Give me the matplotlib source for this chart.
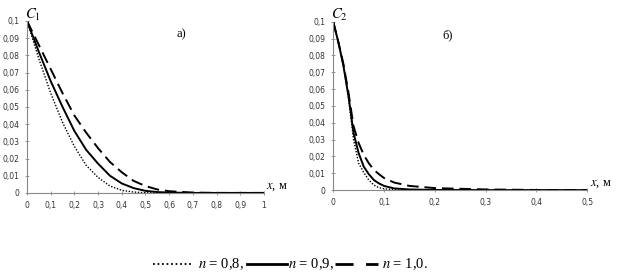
import matplotlib
matplotlib.use("Agg")
import matplotlib.pyplot as plt
from matplotlib.lines import Line2D
from matplotlib.ticker import FuncFormatter

# ---- data ----
x_a = [0, 0.05, 0.1, 0.15, 0.2, 0.25, 0.3, 0.35, 0.4, 0.45, 0.5, 0.55, 0.6, 0.7, 0.8, 0.9, 1.0]
c1_n08 = [0.1, 0.078, 0.058, 0.041, 0.027, 0.016, 0.009, 0.004, 0.0015, 0.0005, 0.0001, 0, 0, 0, 0, 0, 0]
c1_n09 = [0.1, 0.082, 0.065, 0.050, 0.036, 0.025, 0.017, 0.010, 0.0055, 0.0028, 0.0012, 0.0005, 0.0002, 0, 0, 0, 0]
c1_n10 = [0.1, 0.086, 0.072, 0.058, 0.045, 0.035, 0.026, 0.018, 0.012, 0.007, 0.004, 0.002, 0.001, 0.0002, 0, 0, 0]

x_b = [0, 0.01, 0.02, 0.03, 0.04, 0.05, 0.06, 0.07, 0.08, 0.09, 0.1, 0.12, 0.15, 0.2, 0.3, 0.4, 0.5]
c2_n08 = [0.1, 0.088, 0.074, 0.055, 0.030, 0.016, 0.0105, 0.006, 0.003, 0.0015, 0.0008, 0.0002, 0, 0, 0, 0, 0]
c2_n09 = [0.1, 0.088, 0.074, 0.056, 0.034, 0.022, 0.014, 0.0095, 0.006, 0.004, 0.0025, 0.001, 0.0004, 0.0001, 0, 0, 0]
c2_n10 = [0.1, 0.088, 0.075, 0.058, 0.038, 0.028, 0.021, 0.016, 0.012, 0.0095, 0.0072, 0.0045, 0.0025, 0.0012, 0.0004, 0.0001, 0]

yticks = [0, 0.01, 0.02, 0.03, 0.04, 0.05, 0.06, 0.07, 0.08, 0.09, 0.1]
xticks_a = [0, 0.1, 0.2, 0.3, 0.4, 0.5, 0.6, 0.7, 0.8, 0.9, 1.0]
xticks_b = [0, 0.1, 0.2, 0.3, 0.4, 0.5]
legend_labels = ["$n$ = 0,8,", "$n$ = 0,9,", "$n$ = 1,0."]

plt.rcParams["mathtext.fontset"] = "stix"
fig = plt.figure(figsize=(6.24, 2.8), dpi=100)

def fmt(v, pos):
    s = f"{v:.2f}".rstrip("0").rstrip(".")
    return s.replace(".", ",")

styles = [dict(ls=(0, (1, 1.2)), lw=1.0), dict(ls="-", lw=1.4), dict(ls=(0, (6, 3)), lw=1.4)]
leg_styles = [dict(ls=(0, (1, 1.5)), lw=1.3), dict(ls="-", lw=2.0), dict(ls=(0, (6.5, 4.5)), lw=2.0)]

def setup(ax, xticks, xmax, ylab, panel, panel_x):
    ax.set_xlim(0, xmax)
    ax.set_ylim(0, 0.1)
    ax.set_xticks(xticks)
    ax.set_yticks(yticks)
    ax.xaxis.set_major_formatter(FuncFormatter(fmt))
    ax.yaxis.set_major_formatter(FuncFormatter(fmt))
    for s in ("top", "right"):
        ax.spines[s].set_visible(False)
    for s in ("left", "bottom"):
        ax.spines[s].set_color("#888888")
        ax.spines[s].set_linewidth(0.8)
    ax.tick_params(direction="inout", length=3, width=0.6, color="#888888",
                   labelsize=5.5, pad=4, labelcolor="#333333")
    ax.patch.set_alpha(0)
    ax.text(-0.008, 0.99, ylab, transform=ax.transAxes, fontsize=10.5,
            ha="left", va="bottom")
    ax.text(1.01, 0.0, r"$x$, м", transform=ax.transAxes, fontsize=9,
            family="Liberation Serif", ha="left", va="bottom")
    ax.text(panel_x, 0.92, panel, transform=ax.transAxes, fontsize=9,
            family="Liberation Serif", ha="center", va="center")

ax1 = fig.add_axes([0.0433, 0.311, 0.3797, 0.614])
for y, st in zip([c1_n08, c1_n09, c1_n10], styles):
    ax1.plot(x_a, y, color="black", **st)
setup(ax1, xticks_a, 1.0, r"$C_1$", "а)", 0.65)

ax2 = fig.add_axes([0.534, 0.321, 0.407, 0.6015])
for y, st in zip([c2_n08, c2_n09, c2_n10], styles):
    ax2.plot(x_b, y, color="black", **st)
setup(ax2, xticks_b, 0.5, r"$C_2$", "б)", 0.45)

# custom legend row at the bottom
ly = 1 - 264 / 280
segs = [(153, 192, 198), (247, 287, 288), (335, 378, 382)]
for (x0, x1, tx), st, lab in zip(segs, leg_styles, legend_labels):
    fig.add_artist(Line2D([x0 / 624, x1 / 624], [ly, ly], color="black",
                          transform=fig.transFigure, **st))
    fig.text(tx / 624, ly, lab, fontsize=10.5, family="Liberation Serif",
             ha="left", va="center")

fig.savefig("out.png", dpi=100)
